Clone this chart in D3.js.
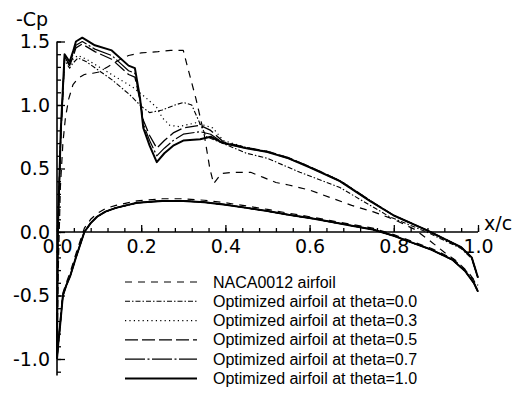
<!DOCTYPE html>
<html><head><meta charset="utf-8">
<script src="https://cdn.jsdelivr.net/npm/d3@7"></script>
<style>body{margin:0;background:#fff}svg{display:block}</style>
</head><body><svg id="c" width="515" height="408"></svg>
<script>
// ---------- data ----------
const legendLabels = ["NACA0012 airfoil","Optimized airfoil at theta=0.0","Optimized airfoil at theta=0.3",
  "Optimized airfoil at theta=0.5","Optimized airfoil at theta=0.7","Optimized airfoil at theta=1.0"];
const xTickLabels = [0.0,0.2,0.4,0.6,0.8,1.0];
const yTickLabels = [1.5,1.0,0.5,0.0,-0.5,-1.0];

// NACA0012 upper / lower surface
const nacaXu  = [0,0.003,0.008,0.014,0.02,0.028,0.038,0.05,0.065,0.085,0.1,0.12,0.145,0.17,0.2,0.24,0.27,0.3,0.31,0.33,0.35,0.363,0.372,0.39,0.42,0.46,0.49,0.52,0.55,0.6,0.65,0.7,0.75,0.8,0.85,0.89,0.92,0.95,0.98,1.0];
const nacaCpu = [-1.0,-0.3,0.35,0.7,0.9,1.05,1.16,1.21,1.24,1.25,1.26,1.3,1.35,1.39,1.41,1.42,1.43,1.43,1.3,1.05,0.76,0.5,0.38,0.46,0.47,0.47,0.43,0.39,0.37,0.33,0.27,0.21,0.16,0.1,0.02,-0.08,-0.16,-0.23,-0.33,-0.42];
const lowXl   = [0,0.003,0.007,0.014,0.022,0.031,0.045,0.065,0.08,0.095,0.115,0.14,0.19,0.25,0.3,0.35,0.4,0.45,0.5,0.55,0.6,0.65,0.7,0.75,0.8,0.84,0.89,0.94,0.97,0.99,1.0];
const nacaCpl = [-1.0,-0.86,-0.72,-0.48,-0.4,-0.32,-0.17,0.03,0.1,0.145,0.185,0.21,0.245,0.262,0.262,0.25,0.23,0.205,0.178,0.148,0.12,0.09,0.06,0.03,-0.02,-0.07,-0.13,-0.21,-0.3,-0.38,-0.44];
const optCpl  = [-1.0,-0.88,-0.75,-0.5,-0.42,-0.35,-0.2,0.0,0.07,0.12,0.16,0.19,0.23,0.245,0.245,0.235,0.215,0.19,0.165,0.135,0.11,0.08,0.05,0.02,-0.03,-0.08,-0.14,-0.22,-0.31,-0.4,-0.47];

// theta = 0.0
const t00Xu  = [0,0.002,0.009,0.018,0.024,0.03,0.038,0.05,0.07,0.1,0.13,0.173,0.2,0.22,0.25,0.28,0.3,0.32,0.34,0.355,0.4,0.45,0.5,0.577,0.672,0.79,0.878,0.96,0.985,1.0];
const t00Cpu = [-1.0,0.0,0.76,1.35,1.32,1.29,1.33,1.37,1.34,1.27,1.2,1.08,0.99,0.94,0.96,1.0,1.02,1.0,0.85,0.75,0.69,0.62,0.58,0.47,0.35,0.12,0.0,-0.13,-0.21,-0.36];
// theta = 0.3
const t03Xu  = [0,0.002,0.009,0.018,0.024,0.03,0.038,0.05,0.07,0.1,0.14,0.18,0.21,0.237,0.25,0.268,0.29,0.33,0.37,0.395,0.45,0.5,0.55,0.6,0.672,0.743,0.8,0.878,0.96,0.985,1.0];
const t03Cpu = [-1.0,0.0,0.78,1.37,1.34,1.31,1.36,1.39,1.36,1.3,1.22,1.14,1.06,0.98,0.9,0.84,0.83,0.86,0.82,0.72,0.665,0.635,0.585,0.515,0.405,0.25,0.13,0.015,-0.12,-0.2,-0.36];
// theta = 0.5, 0.7, 1.0 share the same stations
const tXu    = [0,0.002,0.009,0.018,0.024,0.03,0.038,0.045,0.06,0.09,0.13,0.17,0.185,0.197,0.205,0.22,0.237,0.255,0.276,0.3,0.34,0.365,0.395,0.45,0.5,0.55,0.6,0.672,0.743,0.8,0.878,0.96,0.985,1.0];
const t05Cpu = [-1.0,0.0,0.76,1.37,1.34,1.31,1.38,1.45,1.48,1.42,1.36,1.24,1.22,1.04,0.88,0.76,0.66,0.72,0.78,0.82,0.84,0.8,0.71,0.665,0.635,0.585,0.515,0.405,0.25,0.13,0.015,-0.12,-0.2,-0.36];
const t07Cpu = [-1.0,0.0,0.78,1.38,1.35,1.32,1.4,1.47,1.5,1.44,1.39,1.27,1.25,1.05,0.85,0.72,0.6,0.66,0.72,0.77,0.79,0.77,0.70,0.66,0.63,0.58,0.51,0.40,0.245,0.13,0.015,-0.12,-0.2,-0.36];
const t10Cpu = [-1.0,0.0,0.8,1.4,1.37,1.34,1.42,1.5,1.53,1.47,1.43,1.31,1.29,1.06,0.82,0.68,0.55,0.62,0.68,0.72,0.73,0.75,0.70,0.66,0.63,0.58,0.51,0.40,0.245,0.13,0.015,-0.12,-0.2,-0.36];

// ---------- build ----------
const zip = (xs, ys) => xs.map((v, i) => [v, ys[i]]);
const series = [
  {upper: zip(nacaXu, nacaCpu), lower: zip(lowXl, nacaCpl)},
  {upper: zip(t00Xu, t00Cpu),   lower: zip(lowXl, optCpl)},
  {upper: zip(t03Xu, t03Cpu),   lower: zip(lowXl, optCpl)},
  {upper: zip(tXu, t05Cpu),     lower: zip(lowXl, optCpl)},
  {upper: zip(tXu, t07Cpu),     lower: zip(lowXl, optCpl)},
  {upper: zip(tXu, t10Cpu),     lower: zip(lowXl, optCpl)}
];
const styles = [
  {dash: "7,6", w: 1.2},
  {dash: "5,2,1.5,2", w: 1.1},
  {dash: "1.2,3.2", w: 1.2},
  {dash: "13,4", w: 1.3},
  {dash: "20,2.5,2,2.5", w: 1.2},
  {dash: null, w: 2}
];

const svg = d3.select("#c");
const x = d3.scaleLinear().domain([0, 1]).range([57, 478]);
const y = d3.scaleLinear().domain([-1, 1.5]).range([359, 41.5]);
const line = d3.line().x(d => x(d[0])).y(d => y(d[1]));

const axisFont = "DejaVu Sans, sans-serif";

// y axis
const gy = svg.append("g").attr("transform", `translate(${x(0)},0)`);
gy.append("line").attr("x1", 0).attr("x2", 0).attr("y1", y(1.5)).attr("y2", y(-1.13))
  .attr("stroke", "#000").attr("stroke-width", 1.6);
const yMinor = d3.range(-11, 16).map(d => d / 10);
gy.call(g => g.append("g").call(d3.axisRight(y).tickValues(yMinor).tickSize(4).tickFormat("")));
gy.call(g => g.append("g").call(d3.axisRight(y).tickValues(yTickLabels).tickSize(8).tickFormat("")));
gy.append("g").call(d3.axisLeft(y).tickValues(yTickLabels).tickSize(0).tickPadding(7).tickFormat(d => d.toFixed(1)))
  .call(g => g.selectAll("text").attr("font-size", 19).attr("font-family", axisFont).attr("fill", "#000"));
gy.selectAll(".domain").remove();
gy.selectAll(".tick line").attr("stroke", "#000").attr("stroke-width", 1.3);

// x axis
const gx = svg.append("g").attr("transform", `translate(0,${y(0)})`);
gx.append("line").attr("x1", x(0)).attr("x2", x(1)).attr("y1", 0).attr("y2", 0)
  .attr("stroke", "#000").attr("stroke-width", 1.6);
const xMinor = d3.range(0, 26).map(d => d * 0.04);
gx.append("g").call(d3.axisTop(x).tickValues(xMinor).tickSize(4).tickFormat(""));
gx.append("g").call(d3.axisTop(x).tickValues(xTickLabels).tickSize(7).tickFormat(""));
gx.append("g").call(d3.axisBottom(x).tickValues(xTickLabels).tickSize(0).tickPadding(8).tickFormat(d => d.toFixed(1)))
  .call(g => g.selectAll("text").attr("font-size", 19).attr("font-family", axisFont).attr("fill", "#000"));
gx.selectAll(".domain").remove();
gx.selectAll(".tick line").attr("stroke", "#000").attr("stroke-width", 1.3);

// titles
svg.append("text").attr("x", 16).attr("y", 26).attr("font-size", 19).attr("font-family", axisFont).text("-Cp");
svg.append("text").attr("x", 484).attr("y", 230).attr("font-size", 19).attr("font-family", axisFont).text("x/c");

// curves
const gc = svg.append("g").attr("fill", "none").attr("stroke", "#000").attr("stroke-linejoin", "round");
series.forEach((s, i) => {
  [s.lower, s.upper].forEach(pts => {
    gc.append("path").attr("d", line(pts))
      .attr("stroke-width", styles[i].w)
      .attr("stroke-dasharray", styles[i].dash);
  });
});

// legend
const lg = svg.append("g");
legendLabels.forEach((lab, i) => {
  const yy = 282 + i * 19.3;
  lg.append("line").attr("x1", 125).attr("x2", 197).attr("y1", yy).attr("y2", yy)
    .attr("stroke", "#000").attr("stroke-width", styles[i].w).attr("stroke-dasharray", styles[i].dash);
  lg.append("text").attr("x", 213).attr("y", yy + 5.5).attr("font-size", 16)
    .attr("font-family", "Liberation Sans, Arial, sans-serif").attr("fill", "#000").text(lab);
});
</script></body></html>
